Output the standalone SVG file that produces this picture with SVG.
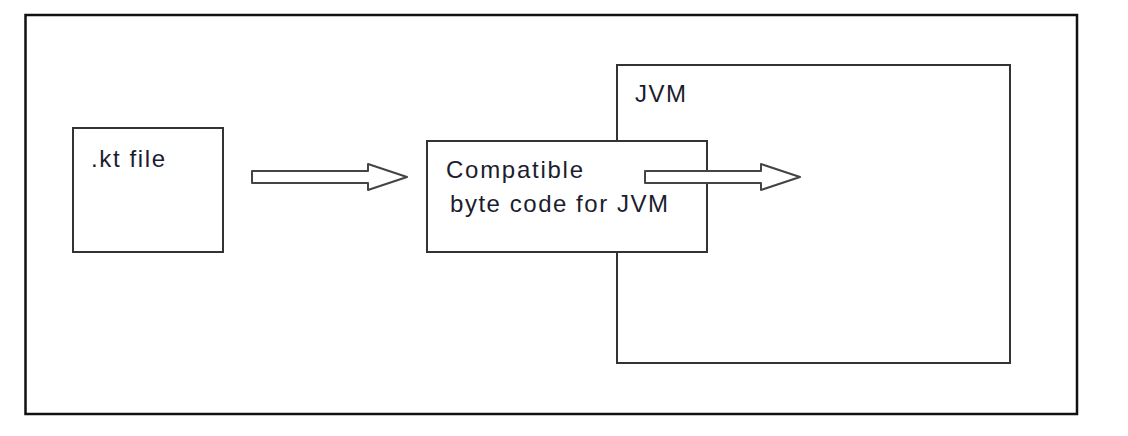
<svg xmlns="http://www.w3.org/2000/svg" width="1128" height="436" viewBox="0 0 1128 436">
<style>
.box{fill:#fff;stroke:#333;stroke-width:2}
.frame{fill:#fff;stroke:#111;stroke-width:2.5}
.arrow{fill:#fff;stroke:#444;stroke-width:2;stroke-linejoin:round}
.t{font-family:"Liberation Sans",Arial,sans-serif;font-size:24px;fill:#1b1d2e}
</style>
<rect width="1128" height="436" fill="#fff"/>
<rect class="frame" x="25.5" y="15" width="1051.5" height="399"/>
<g id="jvm">
<rect class="box" x="617" y="65" width="393" height="298"/>
<text class="t" x="635" y="102" textLength="51" lengthAdjust="spacing">JVM</text>
</g>
<g id="ktfile">
<rect class="box" x="73" y="128" width="150" height="124"/>
<text class="t" x="91" y="167" textLength="74" lengthAdjust="spacing">.kt file</text>
</g>
<g id="bytecode">
<rect class="box" x="427" y="141" width="280" height="111"/>
<text class="t" x="446" y="178" textLength="137" lengthAdjust="spacing">Compatible</text>
<text class="t" x="450" y="212" textLength="218" lengthAdjust="spacing">byte code for JVM</text>
</g>
<g id="connectors">
<polygon class="arrow" points="252,171 368,171 368,164 407,177 368,190 368,183 252,183"/>
<polygon class="arrow" points="645,171 761,171 761,164 800,177 761,190 761,183 645,183"/>
</g>
</svg>
